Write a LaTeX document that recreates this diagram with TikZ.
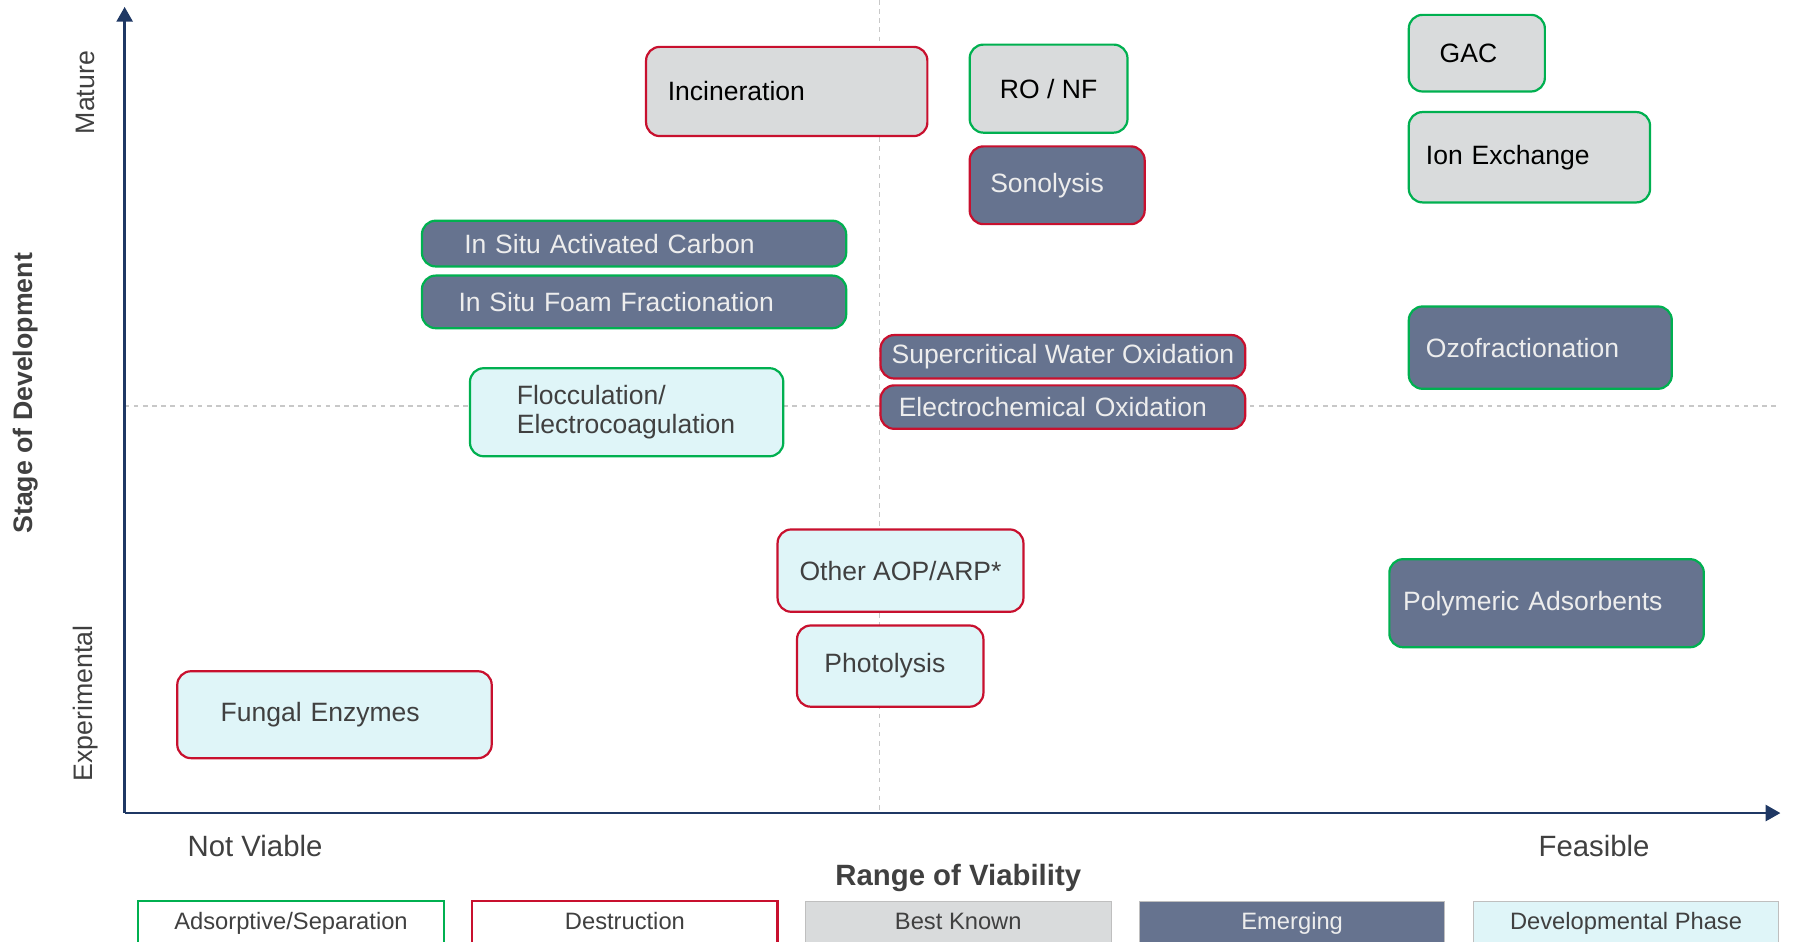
\documentclass[tikz,border=0pt]{standalone}
\usepackage{fontspec}
\setmainfont{Liberation Sans}
\usetikzlibrary{arrows.meta,positioning}
\definecolor{destred}{HTML}{C8102E}
\definecolor{sepgreen}{HTML}{00B050}
\definecolor{known}{HTML}{D9DBDC}
\definecolor{emerging}{HTML}{66738F}
\definecolor{develop}{HTML}{DFF5F8}
\definecolor{axisblue}{HTML}{1F3864}
\definecolor{labelgrey}{HTML}{404040}
\definecolor{guide}{HTML}{C8C8C8}
\newcommand{\boxfont}{\fontsize{13.2}{14.8}\selectfont}
\newcommand{\legfont}{\fontsize{11.8}{13}\selectfont}
\newcommand{\axfont}{\fontsize{14.6}{16}\selectfont}
\newcommand{\stagefont}{\fontsize{13.3}{15}\selectfont}

\begin{document}
\begin{tikzpicture}[x=0.2mm,y=-0.2mm,
  tech/.style={rounded corners=2.4mm,line width=1.1pt,inner ysep=0.5mm,align=left,font=\boxfont},
  sep/.style={draw=sepgreen},destr/.style={draw=destred},
  bestknown/.style={fill=known,text=black},
  emerg/.style={fill=emerging,text=white!93!black},
  devel/.style={fill=develop,text=labelgrey},
  legend/.style={minimum width=53.4mm,minimum height=7.6mm,inner sep=0pt,text height=1.6ex,text depth=0.4ex,font=\legfont,text=labelgrey},
  guideline/.style={guide,line width=0.6pt,dash pattern=on 0.8mm off 0.8mm}]
\useasboundingbox (0,0) rectangle (1568,823);
\clip (0,0) rectangle (1568,823);
% guide lines and axes
\draw[guideline] (769,0)--(769,711);
\draw[guideline] (109,355)--(1555,355);
\coordinate (origin) at (109,711);
\coordinate (ytip) at (109,6);
\coordinate (xtip) at (1557,711);
\draw[axisblue,line width=1.4pt,-{Triangle[width=2.8mm,length=2.6mm]}] (origin)--(ytip);
\draw[axisblue,line width=1.4pt,-{Triangle[width=2.8mm,length=2.6mm]}] (origin)--(xtip);
\node[rotate=90,font=\stagefont,text=labelgrey] (mature) at (75,81){Mature};
\node[rotate=90,font=\stagefont,text=labelgrey] (experimental) at (75,615){Experimental};
\node[rotate=90,font=\stagefont\bfseries,text=labelgrey] (stage) at (22,344){Stage of Development};
\node[font=\axfont,text=labelgrey] (notviable) at (223,740){Not Viable};
\node[font=\axfont,text=labelgrey] (feasible) at (1394,740){Feasible};
\node[font=\axfont\bfseries,text=labelgrey] (range) at (838,768){Range of Viability};
% technologies
\node[tech,destr,bestknown,text width=41.6mm,inner xsep=3.8mm,minimum height=15.6mm] (incin) at (688,80){Incineration};
\node[tech,sep,bestknown,minimum width=27.6mm,align=center,minimum height=15.4mm] (ronf) at (917,77.5){RO / NF};
\node[tech,destr,emerg,text width=23.4mm,inner xsep=3.6mm,minimum height=13.6mm] (sono) at (924.5,162){Sonolysis};
\node[tech,sep,bestknown,text width=13mm,inner xsep=5.4mm,minimum height=13.4mm] (gac) at (1291.5,46.5){GAC};
\node[tech,sep,bestknown,text width=36.2mm,inner xsep=3mm,minimum height=15.8mm] (ionex) at (1337.5,137.5){Ion Exchange};
\node[tech,sep,emerg,text width=59.4mm,inner xsep=7.4mm,minimum height=8mm] (isac) at (554.5,213){In Situ Activated Carbon};
\node[tech,sep,emerg,text width=61.4mm,inner xsep=6.4mm,minimum height=9.2mm] (isff) at (554.5,264){In Situ Foam Fractionation};
\node[tech,sep,emerg,text width=40mm,inner xsep=3mm,minimum height=14.4mm] (ozo) at (1347,304){Ozofractionation};
\node[tech,destr,emerg,minimum width=63.8mm,inner xsep=0.5mm,align=center,minimum height=7.6mm] (scwo) at (929.5,312){Supercritical Water Oxidation};
\node[tech,destr,emerg,text width=57.4mm,inner xsep=3.2mm,minimum height=7.6mm] (eo) at (929.5,356){Electrochemical Oxidation};
\node[tech,sep,devel,text width=38.4mm,inner xsep=8.2mm,minimum height=15.4mm] (floc) at (548,360.5){Flocculation/\\Electrocoagulation};
\node[tech,destr,devel,minimum width=43mm,align=center,minimum height=14.4mm] (aop) at (787.5,499){Other AOP/ARP*};
\node[tech,sep,emerg,text width=50.2mm,inner xsep=2.4mm,minimum height=15.4mm] (polyads) at (1352.5,527.5){Polymeric Adsorbents};
\node[tech,destr,devel,text width=23mm,inner xsep=4.8mm,minimum height=14.2mm] (photo) at (778.5,582.5){Photolysis};
\node[tech,destr,devel,text width=39.8mm,inner xsep=7.6mm,minimum height=15.2mm] (fungal) at (292.5,625){Fungal Enzymes};
% legend
\node[legend,draw=sepgreen,line width=1.1pt,fill=white] (legsep) at (254.5,807){Adsorptive/Separation};
\node[legend,draw=destred,line width=1.1pt,fill=white] (legdestr) at (546.5,807){Destruction};
\node[legend,draw=black!25,fill=known] (legknown) at (838,807){Best Known};
\node[legend,draw=black!25,fill=emerging,text=white!93!black] (legemerg) at (1130,807){Emerging};
\node[legend,draw=black!25,fill=develop] (legdevel) at (1422,807){Developmental Phase};
\end{tikzpicture}
\end{document}
